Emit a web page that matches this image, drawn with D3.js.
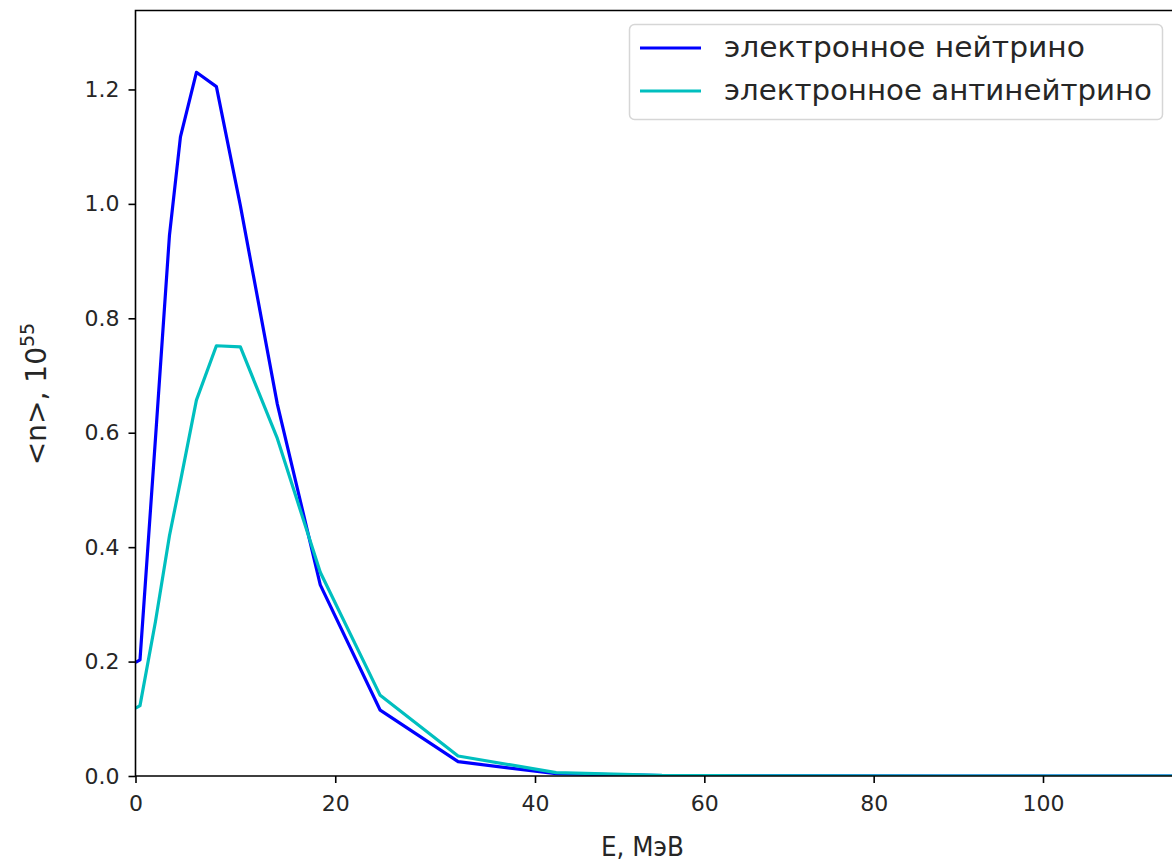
<!DOCTYPE html>
<html>
<head>
<meta charset="utf-8">
<script src="https://cdn.jsdelivr.net/npm/d3@7"></script>
<style>
  html, body { margin: 0; padding: 0; background: #fff; }
  svg { display: block; font-family: "DejaVu Sans", sans-serif; }
</style>
</head>
<body>
<svg id="chart" width="1172" height="865"></svg>
<script>
// Energy grid, MeV
const energy = [0.15, 0.45, 2.0, 3.4, 4.5, 6.1, 8.1, 10.5, 14.2, 18.5, 24.5, 32.3, 42.5, 55, 70, 88, 110, 135];
// electron neutrino, <n> in 10^55
const neutrino = [0.2, 0.203, 0.59, 0.945, 1.117, 1.23, 1.205, 0.997, 0.65, 0.334, 0.115, 0.025, 0.004, 0.0005, 0.0001, 0, 0, 0];
// electron antineutrino
const antineutrino = [0.12, 0.123, 0.27, 0.42, 0.515, 0.657, 0.752, 0.75, 0.59, 0.356, 0.141, 0.035, 0.006, 0.001, 0.0002, 0, 0, 0];

const seriesNames = ["электронное нейтрино", "электронное антинейтрино"];
const seriesColors = ["#0000ff", "#00bfbf"];
const xTicks = [0, 20, 40, 60, 80, 100];
const yTicks = [0.0, 0.2, 0.4, 0.6, 0.8, 1.0, 1.2];
const xLabel = "E, МэВ";

(function () {
const svg = d3.select("#chart");
const pLeft = 135.5, pTop = 10.5, pBottom = 776;
const x = d3.scaleLinear().domain([0, 40, 100, 135]).range([pLeft, 535, 1043, 1338]);
const y = d3.scaleLinear().domain([0, 1.338]).range([pBottom, pTop]);
const pRight = x(135);

svg.append("clipPath").attr("id", "clip")
  .append("rect").attr("x", pLeft).attr("y", pTop).attr("width", pRight - pLeft).attr("height", pBottom - pTop);

const line = d3.line().x((d, i) => x(energy[i])).y(d => y(d));
const plot = svg.append("g").attr("clip-path", "url(#clip)");
[neutrino, antineutrino].forEach((vals, k) => {
  plot.append("path").datum(vals)
    .attr("d", line)
    .attr("fill", "none")
    .attr("stroke", seriesColors[k])
    .attr("stroke-width", 3.2)
    .attr("stroke-linejoin", "round")
    .attr("stroke-linecap", "square");
});

// axes
const fs = 22;
const xAxis = d3.axisBottom(x).tickValues(xTicks).tickFormat(d3.format("d")).tickSize(7).tickPadding(12);
const gx = svg.append("g").attr("transform", `translate(0,${pBottom})`).call(xAxis);
const yAxis = d3.axisLeft(y).tickValues(yTicks).tickFormat(d3.format(".1f")).tickSize(7).tickPadding(9);
const gy = svg.append("g").attr("transform", `translate(${pLeft},0)`).call(yAxis);
[gx, gy].forEach(g => {
  g.select(".domain").remove();
  g.selectAll(".tick line").attr("stroke", "#000").attr("stroke-width", 1.6);
  g.selectAll(".tick text").attr("fill", "#262626").attr("font-size", fs).attr("font-family", "DejaVu Sans");
});

// frame (spines)
svg.append("path")
  .attr("d", `M${pRight},${pTop}H${pLeft}V${pBottom}H${pRight}`)
  .attr("fill", "none").attr("stroke", "#000").attr("stroke-width", 1.6);

// axis labels
svg.append("text").attr("x", 601).attr("y", 856)
  .attr("font-size", 27).attr("fill", "#262626")
  .attr("textLength", 83).attr("lengthAdjust", "spacingAndGlyphs")
  .text(xLabel);

const yl = svg.append("text")
  .attr("transform", "translate(46,394) rotate(-90)")
  .attr("text-anchor", "middle").attr("font-size", 28).attr("fill", "#262626");
yl.append("tspan").text("<n>, 10");
yl.append("tspan").attr("font-size", 19).attr("dy", -12).text("55");

// legend
const legendTextLen = [361, 428];
const lg = svg.append("g");
lg.append("rect").attr("x", 629.5).attr("y", 24.5).attr("width", 533).attr("height", 95)
  .attr("rx", 5).attr("fill", "#fff").attr("fill-opacity", 0.8)
  .attr("stroke", "#d6d6d6").attr("stroke-width", 1.5);
seriesNames.forEach((name, i) => {
  const cy = 48 + i * 43;
  lg.append("line").attr("x1", 640).attr("x2", 701).attr("y1", cy).attr("y2", cy)
    .attr("stroke", seriesColors[i]).attr("stroke-width", 3.2);
  lg.append("text").attr("x", 724).attr("y", cy + 8.5)
    .attr("font-size", 28.5).attr("fill", "#262626")
    .attr("textLength", legendTextLen[i]).attr("lengthAdjust", "spacingAndGlyphs")
    .text(name);
});
})();
</script>
</body>
</html>
